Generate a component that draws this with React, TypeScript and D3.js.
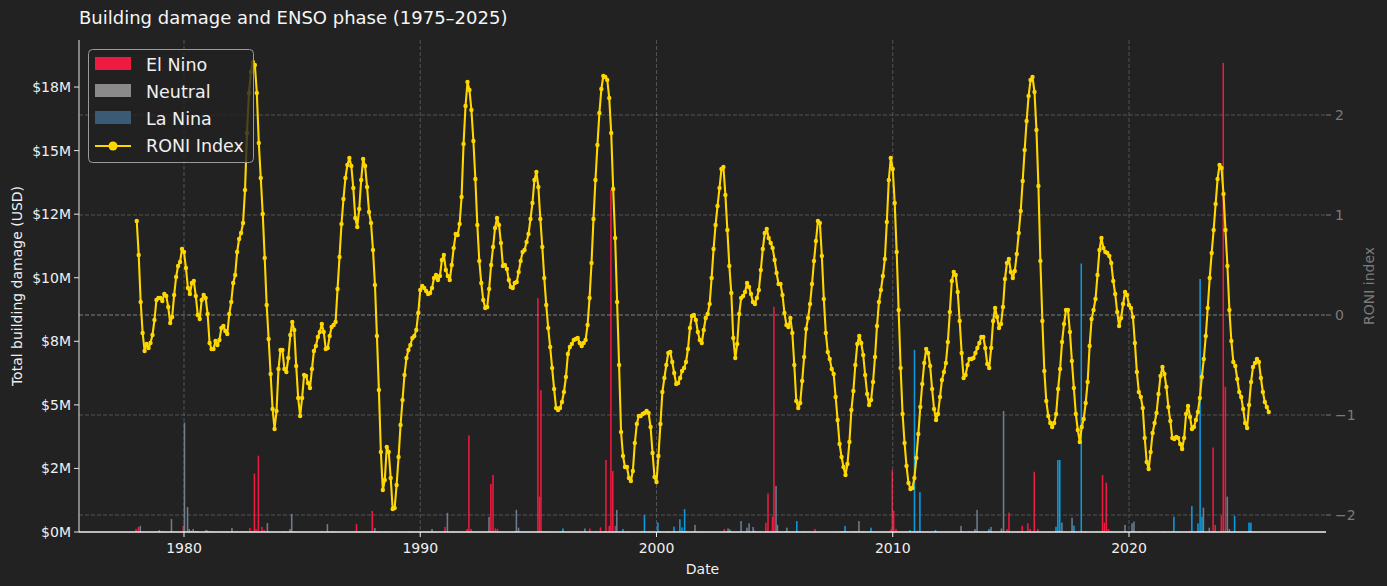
import React, { Component } from 'react';
import * as d3 from 'd3';

// RONI index, one value per month, Jan 1978 .. Dec 2025
const roniStartYear = 1978;
const roniValues: number[] = [
    // 1978
    0.94, 0.60, 0.13, -0.18, -0.36, -0.29, -0.33, -0.28, -0.20, -0.05, 0.15, 0.17,
    // 1979
    0.17, 0.14, 0.21, 0.19, 0.08, -0.08, -0.02, 0.20, 0.38, 0.49, 0.53, 0.66,
    // 1980
    0.63, 0.47, 0.27, 0.21, 0.32, 0.34, 0.19, 0.00, -0.04, 0.15, 0.20, 0.17,
    // 1981
    0.01, -0.28, -0.34, -0.34, -0.26, -0.30, -0.25, -0.13, -0.11, -0.16, -0.19, 0.01,
    // 1982
    0.13, 0.32, 0.40, 0.63, 0.76, 0.82, 0.92, 1.25, 1.82, 2.22, 2.43, 2.53,
    // 1983
    2.50, 2.22, 1.72, 1.37, 1.01, 0.57, 0.10, -0.24, -0.59, -0.94, -1.14, -0.96,
    // 1984
    -0.54, -0.35, -0.35, -0.54, -0.57, -0.43, -0.20, -0.07, -0.15, -0.51, -0.83, -1.01,
    // 1985
    -0.83, -0.60, -0.61, -0.68, -0.73, -0.54, -0.36, -0.31, -0.22, -0.17, -0.09, -0.17,
    // 1986
    -0.34, -0.33, -0.21, -0.12, -0.10, -0.07, 0.26, 0.58, 0.91, 1.16, 1.37, 1.50,
    // 1987
    1.57, 1.49, 1.27, 0.97, 0.88, 1.06, 1.35, 1.56, 1.49, 1.28, 1.03, 0.92,
    // 1988
    0.65, 0.30, -0.21, -0.75, -1.37, -1.75, -1.65, -1.32, -1.37, -1.63, -1.94, -1.93,
    // 1989
    -1.70, -1.42, -1.10, -0.85, -0.60, -0.43, -0.35, -0.30, -0.23, -0.21, -0.15, 0.02,
    // 1990
    0.25, 0.29, 0.27, 0.24, 0.21, 0.22, 0.27, 0.37, 0.40, 0.35, 0.39, 0.55,
    // 1991
    0.60, 0.45, 0.39, 0.35, 0.50, 0.67, 0.81, 0.80, 0.91, 1.18, 1.71, 2.09,
    // 1992
    2.33, 2.25, 2.05, 1.74, 1.36, 0.90, 0.54, 0.32, 0.15, 0.07, 0.08, 0.26,
    // 1993
    0.50, 0.68, 0.87, 0.97, 0.90, 0.72, 0.49, 0.50, 0.46, 0.35, 0.28, 0.27,
    // 1994
    0.32, 0.33, 0.43, 0.54, 0.63, 0.65, 0.73, 0.81, 0.96, 1.12, 1.35, 1.43,
    // 1995
    1.28, 0.96, 0.68, 0.37, 0.10, -0.13, -0.32, -0.53, -0.74, -0.93, -0.95, -0.93,
    // 1996
    -0.87, -0.77, -0.62, -0.39, -0.32, -0.29, -0.25, -0.24, -0.23, -0.28, -0.31, -0.28,
    // 1997
    -0.25, -0.10, 0.17, 0.52, 0.96, 1.35, 1.70, 2.02, 2.26, 2.39, 2.38, 2.35,
    // 1998
    2.17, 1.82, 1.26, 0.77, 0.13, -0.50, -1.17, -1.41, -1.52, -1.52, -1.63, -1.66,
    // 1999
    -1.56, -1.28, -1.09, -1.01, -1.01, -0.99, -0.98, -0.96, -0.98, -1.12, -1.38, -1.62,
    // 2000
    -1.67, -1.41, -1.09, -0.77, -0.63, -0.50, -0.38, -0.37, -0.47, -0.58, -0.69, -0.68,
    // 2001
    -0.63, -0.56, -0.53, -0.47, -0.34, -0.13, -0.01, 0.00, -0.05, -0.17, -0.25, -0.28,
    // 2002
    -0.15, -0.03, 0.01, 0.11, 0.37, 0.66, 0.90, 1.09, 1.27, 1.46, 1.48, 1.20,
    // 2003
    0.85, 0.49, 0.22, -0.23, -0.43, -0.29, 0.01, 0.17, 0.19, 0.23, 0.32, 0.28,
    // 2004
    0.21, 0.13, 0.11, 0.17, 0.25, 0.45, 0.66, 0.82, 0.86, 0.77, 0.72, 0.67,
    // 2005
    0.55, 0.42, 0.31, 0.31, 0.20, 0.02, -0.10, -0.12, -0.03, -0.18, -0.50, -0.86,
    // 2006
    -0.93, -0.88, -0.66, -0.42, -0.14, -0.03, 0.11, 0.31, 0.54, 0.74, 0.94, 0.92,
    // 2007
    0.59, 0.16, -0.18, -0.37, -0.44, -0.54, -0.59, -0.82, -1.05, -1.29, -1.42, -1.52,
    // 2008
    -1.60, -1.49, -1.27, -0.95, -0.76, -0.50, -0.29, -0.21, -0.28, -0.40, -0.60, -0.79,
    // 2009
    -0.90, -0.85, -0.67, -0.42, -0.11, 0.13, 0.25, 0.39, 0.56, 0.93, 1.35, 1.57,
    // 2010
    1.46, 1.12, 0.63, 0.05, -0.53, -0.99, -1.28, -1.51, -1.68, -1.74, -1.73, -1.63,
    // 2011
    -1.43, -1.19, -0.92, -0.69, -0.48, -0.34, -0.38, -0.51, -0.74, -0.94, -1.05, -0.99,
    // 2012
    -0.82, -0.65, -0.57, -0.48, -0.27, 0.03, 0.34, 0.43, 0.40, 0.23, -0.06, -0.38,
    // 2013
    -0.63, -0.60, -0.50, -0.44, -0.44, -0.43, -0.38, -0.33, -0.28, -0.22, -0.22, -0.33,
    // 2014
    -0.49, -0.53, -0.33, -0.06, 0.07, -0.02, -0.13, -0.09, 0.08, 0.36, 0.52, 0.56,
    // 2015
    0.43, 0.37, 0.44, 0.61, 0.82, 1.04, 1.34, 1.65, 1.94, 2.19, 2.35, 2.38,
    // 2016
    2.23, 1.85, 1.29, 0.54, -0.06, -0.56, -0.86, -1.01, -1.08, -1.12, -1.08, -0.99,
    // 2017
    -0.74, -0.54, -0.27, -0.09, 0.05, 0.05, -0.17, -0.46, -0.73, -0.99, -1.15, -1.27,
    // 2018
    -1.12, -1.04, -0.88, -0.67, -0.31, -0.04, 0.05, 0.16, 0.40, 0.65, 0.77, 0.67,
    // 2019
    0.63, 0.62, 0.59, 0.52, 0.34, 0.21, 0.03, -0.11, -0.03, 0.11, 0.23, 0.20,
    // 2020
    0.10, 0.07, -0.02, -0.28, -0.57, -0.77, -0.82, -0.93, -1.23, -1.47, -1.54, -1.37,
    // 2021
    -1.18, -1.08, -0.98, -0.79, -0.61, -0.52, -0.59, -0.72, -0.92, -1.06, -1.23, -1.24,
    // 2022
    -1.22, -1.23, -1.29, -1.34, -1.23, -0.99, -0.91, -1.02, -1.14, -1.12, -1.05, -0.97,
    // 2023
    -0.83, -0.62, -0.44, -0.21, 0.07, 0.37, 0.62, 0.85, 1.11, 1.36, 1.50, 1.47,
    // 2024
    1.21, 0.85, 0.49, 0.05, -0.26, -0.47, -0.51, -0.64, -0.77, -0.82, -0.94, -1.08,
    // 2025
    -1.13, -0.90, -0.67, -0.52, -0.48, -0.44, -0.47, -0.63, -0.77, -0.87, -0.92, -0.97
];

// damage bars: date (decimal year), total damage (million USD), ENSO phase
const barDates: number[] = [
    1977.97, 1978.07, 1978.15, 1978.96, 1979.12, 1979.47, 1979.97, 1980.02, 1980.15, 1980.22,
    1980.30, 1980.39, 1980.50, 1980.58, 1980.93, 1980.99, 1981.10, 1981.23, 1981.52, 1981.69,
    1981.82, 1982.03, 1982.23, 1982.47, 1982.64, 1982.79, 1982.89, 1982.98, 1983.05, 1983.15,
    1983.30, 1983.39, 1983.53, 1984.23, 1984.49, 1984.56, 1985.83, 1986.07, 1986.29, 1987.30,
    1987.72, 1987.85, 1987.97, 1988.08, 1988.22, 1988.58, 1989.54, 1990.50, 1991.05, 1991.15,
    1991.39, 1991.64, 1991.98, 1992.06, 1992.15, 1992.53, 1992.91, 1992.99, 1993.08, 1993.18,
    1993.27, 1993.39, 1994.00, 1994.07, 1994.16, 1994.98, 1995.05, 1995.11, 1995.24, 1995.41,
    1996.00, 1996.04, 1996.46, 1996.63, 1996.97, 1997.18, 1997.44, 1997.63, 1997.82, 1997.86,
    1998.00, 1998.07, 1998.15, 1998.26, 1998.32, 1998.45, 1998.58, 1998.83, 1999.49, 1999.68,
    2000.06, 2000.15, 2000.47, 2000.74, 2000.99, 2001.08, 2001.19, 2001.27, 2001.63, 2001.80,
    2002.87, 2003.03, 2003.11, 2003.58, 2003.83, 2003.92, 2004.09, 2004.17, 2004.38, 2004.63,
    2004.72, 2004.84, 2004.91, 2004.97, 2005.06, 2005.12, 2005.27, 2005.44, 2005.52, 2005.62,
    2005.94, 2006.23, 2006.41, 2006.71, 2007.70, 2007.86, 2007.93, 2007.98, 2008.06, 2008.27,
    2008.44, 2008.57, 2008.78, 2009.08, 2009.80, 2009.93, 2009.98, 2010.04, 2010.14, 2010.73,
    2010.92, 2011.03, 2011.15, 2011.81, 2012.25, 2012.55, 2012.89, 2013.22, 2013.48, 2013.57,
    2014.07, 2014.16, 2014.60, 2014.69, 2014.84, 2014.92, 2015.30, 2015.48, 2015.72, 2015.82,
    2015.99, 2016.14, 2016.91, 2016.99, 2017.07, 2017.16, 2017.59, 2017.67, 2017.98, 2018.14,
    2018.65, 2018.88, 2018.96, 2019.04, 2019.13, 2019.26, 2019.83, 2020.13, 2020.21, 2020.47,
    2020.93, 2021.10, 2021.48, 2021.90, 2022.08, 2022.58, 2022.66, 2022.92, 2023.01, 2023.09,
    2023.15, 2023.40, 2023.56, 2023.65, 2023.91, 2023.99, 2024.08, 2024.16, 2024.25, 2024.47,
    2025.08, 2025.16
];
const barValues: number[] = [
    0.12, 0.20, 0.24, 0.08, 0.03, 0.51, 0.25, 4.30, 0.98, 0.12,
    0.05, 0.12, 0.04, 0.04, 0.08, 0.06, 0.04, 0.03, 0.03, 0.03,
    0.03, 0.16, 0.05, 0.04, 0.04, 0.16, 0.05, 2.30, 0.12, 3.00,
    0.20, 0.08, 0.35, 0.04, 0.12, 0.71, 0.03, 0.31, 0.04, 0.31,
    0.03, 0.03, 0.83, 0.16, 0.03, 0.03, 0.03, 0.12, 0.20, 0.75,
    0.03, 0.03, 0.12, 3.80, 0.12, 0.03, 0.59, 1.89, 2.24, 0.14,
    0.12, 0.03, 0.03, 0.87, 0.17, 9.20, 1.39, 5.58, 0.03, 0.03,
    0.03, 0.14, 0.02, 0.02, 0.14, 0.14, 0.04, 0.18, 0.04, 2.83,
    0.24, 13.45, 2.40, 0.24, 0.87, 0.03, 0.12, 0.03, 0.67, 0.02,
    0.37, 0.03, 0.03, 0.21, 0.50, 0.18, 0.90, 0.03, 0.28, 0.02,
    0.12, 0.14, 0.10, 0.43, 0.17, 0.34, 0.20, 0.05, 0.03, 0.37,
    1.52, 0.05, 0.60, 8.86, 1.81, 0.28, 0.03, 0.03, 0.17, 0.03,
    0.43, 0.03, 0.02, 0.12, 0.02, 0.03, 0.03, 0.24, 0.02, 0.03,
    0.04, 0.43, 0.03, 0.17, 0.03, 0.12, 2.44, 0.83, 0.12, 0.08,
    7.16, 0.05, 1.57, 0.08, 0.02, 0.01, 0.24, 0.02, 0.12, 0.87,
    0.12, 0.20, 0.14, 4.76, 0.12, 0.76, 0.03, 0.25, 0.34, 0.12,
    2.37, 0.12, 0.21, 2.83, 2.83, 0.37, 0.56, 0.25, 10.56, 0.03,
    0.03, 2.24, 0.37, 1.94, 0.12, 0.03, 0.28, 0.34, 0.41, 0.03,
    0.02, 0.02, 0.03, 0.60, 0.03, 0.03, 1.02, 0.34, 9.95, 0.60,
    0.96, 0.17, 3.32, 0.28, 0.64, 18.45, 5.71, 1.39, 0.12, 0.64,
    0.37, 0.37
];
const barPhases: string[] = [
    'E', 'E', 'N', 'N', 'N', 'N', 'E', 'N', 'N', 'N',
    'N', 'N', 'N', 'N', 'N', 'N', 'N', 'N', 'N', 'N',
    'N', 'N', 'E', 'E', 'E', 'E', 'E', 'E', 'E', 'E',
    'E', 'E', 'N', 'N', 'N', 'N', 'N', 'N', 'N', 'E',
    'E', 'E', 'E', 'N', 'L', 'L', 'N', 'N', 'E', 'N',
    'E', 'E', 'E', 'E', 'E', 'E', 'N', 'E', 'E', 'E',
    'E', 'E', 'N', 'N', 'N', 'E', 'E', 'E', 'N', 'N',
    'L', 'L', 'N', 'N', 'N', 'E', 'E', 'E', 'E', 'E',
    'E', 'E', 'E', 'E', 'N', 'N', 'L', 'L', 'L', 'L',
    'L', 'L', 'N', 'L', 'L', 'L', 'L', 'L', 'N', 'N',
    'E', 'N', 'N', 'N', 'N', 'N', 'N', 'N', 'N', 'E',
    'E', 'E', 'E', 'E', 'N', 'N', 'N', 'N', 'N', 'N',
    'L', 'N', 'N', 'E', 'L', 'L', 'L', 'L', 'L', 'L',
    'N', 'N', 'N', 'L', 'E', 'E', 'E', 'E', 'E', 'L',
    'L', 'L', 'L', 'L', 'L', 'N', 'N', 'L', 'N', 'N',
    'L', 'N', 'N', 'N', 'E', 'E', 'E', 'E', 'E', 'E',
    'E', 'E', 'L', 'L', 'L', 'N', 'N', 'L', 'L', 'L',
    'E', 'E', 'E', 'E', 'E', 'N', 'N', 'N', 'N', 'L',
    'L', 'L', 'L', 'L', 'L', 'L', 'L', 'L', 'L', 'L',
    'N', 'N', 'E', 'E', 'E', 'E', 'E', 'N', 'N', 'L',
    'L', 'L'
];

const xTicks = [1980, 1990, 2000, 2010, 2020];
const damageTicks = [0, 2.5, 5, 7.5, 10, 12.5, 15, 17.5];
const damageTickLabels = ['$0M', '$2M', '$5M', '$8M', '$10M', '$12M', '$15M', '$18M'];
const roniTicks = [-2, -1, 0, 1, 2];
const roniTickLabels = ['\u22122', '\u22121', '0', '1', '2'];

const legendPhases = ['El Nino', 'Neutral', 'La Nina'];
const legendColours = ['#ee1a40', '#8a8a8a', '#3b5a73'];

const phaseColour: { [k: string]: string } = {
    E: '#ee1a40',
    N: '#6b7d8f',
    L: '#0b9ae0'
};

const FONT = '"DejaVu Sans", sans-serif';
const BAR_DAYS = 24;

export default class App extends Component {
    private canvas: any;
    private width: number;
    private height: number;
    private margin: { top: number, right: number, bottom: number, left: number };

    constructor(props: any) {
        super(props);
        this.canvas = React.createRef();
        this.width = 1387;
        this.height = 586;
        this.margin = { top: 40, right: 61, bottom: 54, left: 79 };
    }

    componentDidMount() {
        this.buildChart();
    }

    buildChart = () => {
        const m = this.margin;
        const x0 = m.left, x1 = this.width - m.right;
        const y0 = m.top, y1 = this.height - m.bottom;

        const xScale = d3.scaleLinear().domain([1975.556, 2028.339]).range([x0, x1]);
        const yDamage = d3.scaleLinear().domain([0, 19.35]).range([y1, y0]);
        const yRoni = d3.scaleLinear().domain([-2.17, 2.75]).range([y1, y0]);

        d3.select(this.canvas.current).selectAll('*').remove();
        const svg = d3.select(this.canvas.current)
            .append('svg')
            .attr('width', this.width)
            .attr('height', this.height)
            .style('display', 'block')
            .style('font-family', FONT);

        svg.append('rect')
            .attr('width', this.width)
            .attr('height', this.height)
            .attr('fill', '#222222');

        // bars
        const bars = barDates.map((d, i) => ({ date: d, value: barValues[i], phase: barPhases[i] }));
        const half = BAR_DAYS / 365.25 / 2;
        svg.append('g').selectAll('rect')
            .data(bars)
            .enter().append('rect')
            .attr('x', (d: any) => xScale(d.date - half))
            .attr('width', (d: any) => xScale(d.date + half) - xScale(d.date - half))
            .attr('y', (d: any) => yDamage(d.value))
            .attr('height', (d: any) => y1 - yDamage(d.value))
            .attr('fill', (d: any) => phaseColour[d.phase]);

        // grid
        const grid = svg.append('g')
            .attr('stroke-dasharray', '4 2')
            .attr('stroke-width', 0.8);
        grid.selectAll('.vgrid')
            .data(xTicks)
            .enter().append('line')
            .attr('x1', (d: number) => xScale(d))
            .attr('x2', (d: number) => xScale(d))
            .attr('y1', y0)
            .attr('y2', y1)
            .attr('stroke', '#8a8a8a')
            .attr('stroke-opacity', 0.6);
        grid.selectAll('.hgrid')
            .data(roniTicks)
            .enter().append('line')
            .attr('x1', x0)
            .attr('x2', x1)
            .attr('y1', (d: number) => yRoni(d))
            .attr('y2', (d: number) => yRoni(d))
            .attr('stroke', (d: number) => d === 0 ? '#b5b5b5' : '#8a8a8a')
            .attr('stroke-opacity', (d: number) => d === 0 ? 0.8 : 0.6);

        // RONI line
        const roni = roniValues.map((v, i) => ({ date: roniStartYear + i / 12, value: v }));
        const line = d3.line<any>()
            .x((d: any) => xScale(d.date))
            .y((d: any) => yRoni(d.value));
        svg.append('path')
            .datum(roni)
            .attr('d', line)
            .attr('fill', 'none')
            .attr('stroke', '#ffd700')
            .attr('stroke-width', 2.1)
            .attr('stroke-linejoin', 'round');
        svg.append('g').selectAll('circle')
            .data(roni)
            .enter().append('circle')
            .attr('cx', (d: any) => xScale(d.date))
            .attr('cy', (d: any) => yRoni(d.value))
            .attr('r', 2.2)
            .attr('fill', '#ffd700');

        // spines
        svg.append('line')
            .attr('x1', x0).attr('x2', x0).attr('y1', y0).attr('y2', y1)
            .attr('stroke', '#e6e6e6').attr('stroke-width', 1);
        svg.append('line')
            .attr('x1', x0).attr('x2', x1).attr('y1', y1).attr('y2', y1)
            .attr('stroke', '#f0f0f0').attr('stroke-width', 1.4);

        // left axis
        const left = svg.append('g');
        damageTicks.forEach((t, i) => {
            left.append('line')
                .attr('x1', x0 - 5).attr('x2', x0)
                .attr('y1', yDamage(t)).attr('y2', yDamage(t))
                .attr('stroke', '#e6e6e6');
            left.append('text')
                .attr('x', x0 - 8)
                .attr('y', yDamage(t))
                .attr('dy', '0.36em')
                .attr('text-anchor', 'end')
                .attr('fill', '#f0f0f0')
                .attr('font-size', 14)
                .text(damageTickLabels[i]);
        });
        svg.append('text')
            .attr('transform', `translate(22, ${(y0 + y1) / 2}) rotate(-90)`)
            .attr('text-anchor', 'middle')
            .attr('fill', '#f0f0f0')
            .attr('font-size', 14)
            .text('Total building damage (USD)');

        // right axis
        const right = svg.append('g');
        roniTicks.forEach((t, i) => {
            right.append('line')
                .attr('x1', x1).attr('x2', x1 + 5)
                .attr('y1', yRoni(t)).attr('y2', yRoni(t))
                .attr('stroke', '#777777');
            right.append('text')
                .attr('x', x1 + 9)
                .attr('y', yRoni(t))
                .attr('dy', '0.36em')
                .attr('fill', '#7a7a7a')
                .attr('font-size', 14)
                .text(roniTickLabels[i]);
        });
        svg.append('text')
            .attr('transform', `translate(1374, ${(y0 + y1) / 2}) rotate(-90)`)
            .attr('text-anchor', 'middle')
            .attr('fill', '#7a7a7a')
            .attr('font-size', 14)
            .text('RONI index');

        // bottom axis
        const bottom = svg.append('g');
        xTicks.forEach((t) => {
            bottom.append('line')
                .attr('x1', xScale(t)).attr('x2', xScale(t))
                .attr('y1', y1).attr('y2', y1 + 5)
                .attr('stroke', '#f0f0f0');
            bottom.append('text')
                .attr('x', xScale(t))
                .attr('y', y1 + 21)
                .attr('text-anchor', 'middle')
                .attr('fill', '#f0f0f0')
                .attr('font-size', 14)
                .text(String(t));
        });
        svg.append('text')
            .attr('x', (x0 + x1) / 2)
            .attr('y', y1 + 42)
            .attr('text-anchor', 'middle')
            .attr('fill', '#f0f0f0')
            .attr('font-size', 14)
            .text('Date');

        // title
        svg.append('text')
            .attr('x', x0)
            .attr('y', 24)
            .attr('fill', '#f5f5f5')
            .attr('font-size', 18)
            .text('Building damage and ENSO phase (1975\u20132025)');

        // legend
        const legend = svg.append('g');
        legend.append('rect')
            .attr('x', 88.5).attr('y', 49.5)
            .attr('width', 165).attr('height', 113)
            .attr('rx', 4)
            .attr('fill', '#222222')
            .attr('fill-opacity', 0.8)
            .attr('stroke', '#9a9a9a')
            .attr('stroke-width', 1);
        legendPhases.forEach((name, i) => {
            legend.append('rect')
                .attr('x', 95).attr('y', 57 + i * 27)
                .attr('width', 36).attr('height', 13)
                .attr('fill', legendColours[i]);
            legend.append('text')
                .attr('x', 146).attr('y', 70.5 + i * 27)
                .attr('fill', '#f0f0f0')
                .attr('font-size', 17.5)
                .text(name);
        });
        legend.append('line')
            .attr('x1', 95).attr('x2', 131)
            .attr('y1', 146).attr('y2', 146)
            .attr('stroke', '#ffd700').attr('stroke-width', 2);
        legend.append('circle')
            .attr('cx', 113).attr('cy', 146).attr('r', 4.5)
            .attr('fill', '#ffd700');
        legend.append('text')
            .attr('x', 146).attr('y', 151.5)
            .attr('fill', '#f0f0f0')
            .attr('font-size', 17.5)
            .text('RONI Index');
    }

    render() {
        return (
            <div style={{ position: 'absolute', left: 0, top: 0 }}>
                <div ref={this.canvas}></div>
            </div>
        );
    }
}
